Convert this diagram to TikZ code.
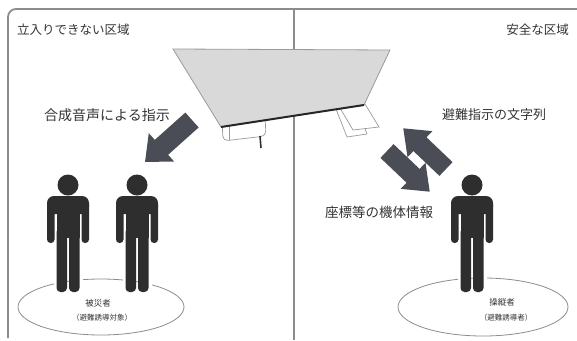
\documentclass[tikz,border=0pt]{standalone}
\usepackage{fontspec}
\setmainfont{Noto Sans CJK JP}
\definecolor{framegray}{HTML}{8C8C8C}
\definecolor{panelgray}{HTML}{D9D9D9}
\definecolor{edgegray}{HTML}{9A9A9A}
\definecolor{arrowgray}{HTML}{4A4D55}
\definecolor{figdark}{HTML}{2E2E2E}
\definecolor{txt}{HTML}{333333}
\tikzset{
  framestyle/.style={draw=framegray, line width=1.8pt},
  lbl/.style={text=txt, inner sep=0pt},
  bigarrow/.style={fill=arrowgray},
  devicepart/.style={draw=edgegray, fill=white, line width=0.7pt},
  zone/.style={draw=framegray, line width=0.8pt},
  person/.pic={
    % white halo so the person stands in front of the ground ellipse
    \begin{scope}[draw=white, line width=6pt]
      \draw (0,185) circle (10.5);
      \draw[rounded corners=7] (-21,196) rectangle (21,214);
      \draw (-21,200) rectangle (21,243);
      \draw (-11.5,196) rectangle (11.5,292);
    \end{scope}
    \begin{scope}[fill=figdark]
      \fill (0,185) circle (10.5);
      \fill[rounded corners=7] (-21,196) rectangle (21,214);
      \fill[rounded corners=3.5] (-21,202) rectangle (-13.5,243);
      \fill[rounded corners=3.5] (13.5,202) rectangle (21,243);
      \fill (-11.5,198) rectangle (11.5,238);
      \fill[rounded corners=4] (-11.5,228) rectangle (-1,292);
      \fill[rounded corners=4] (1,228) rectangle (11.5,292);
    \end{scope}
  }
}
\begin{document}
\begin{tikzpicture}[x=1pt, y=-1pt]
\useasboundingbox (0,0) rectangle (577,340);

% outer frame and divider between the two zones
\draw[framestyle, rounded corners=8pt] (577,9) -- (8,9) -- (8,338);
\draw[framestyle] (294,9) -- (294,340);

% zone titles
\node[lbl, anchor=west, font=\fontsize{12.5}{14}\selectfont] (zoneL) at (17,30) {立入りできない区域};
\node[lbl, anchor=east, font=\fontsize{12.5}{14}\selectfont] (zoneR) at (569,30) {安全な区域};

% devices hanging below the drone
\draw[devicepart, rounded corners=5] (222,120) -- (265,116) -- (266,136) -- (223,141) -- cycle;
\draw[edgegray, line width=0.7pt] (229,126) -- (229,140);
\draw[figdark, line width=1.6pt] (260,136) -- (261,148);
\draw[devicepart] (336,109) -- (347,137) -- (367,134) -- (357,107) -- cycle;
\draw[devicepart] (340,108) -- (353,130) -- (379,127) -- (365,104) -- cycle;

% drone body
\draw[fill=panelgray, draw=edgegray, line width=0.8pt] (173,49) -- (390,50) -- (364,105) -- (221,127) -- cycle;
\draw[line width=2pt, draw=black!85] (221,127) -- (364,105);

% message labels
\node[lbl, font=\fontsize{14}{16}\selectfont] (voice) at (107,115) {合成音声による指示};
\node[lbl, font=\fontsize{13}{15}\selectfont] (textmsg) at (494,115) {避難指示の文字列};
\node[lbl, font=\fontsize{13.5}{15}\selectfont] (info) at (379,212) {座標等の機体情報};

% block arrows
\fill[bigarrow, shift={(192,120)}, rotate=221.8] (0,-10) -- (41,-10) -- (41,-19) -- (63,0) -- (41,19) -- (41,10) -- (0,10) -- cycle;
\fill[bigarrow, shift={(446,169)}, rotate=136.4] (0,-9.5) -- (36,-9.5) -- (36,-18) -- (59,0) -- (36,18) -- (36,9.5) -- (0,9.5) -- cycle;
\fill[bigarrow, shift={(387,151)}, rotate=-43.6] (0,-9.5) -- (36,-9.5) -- (36,-18) -- (59,0) -- (36,18) -- (36,9.5) -- (0,9.5) -- cycle;

% ground ellipses
\draw[zone] (101,307) ellipse (83 and 28);
\draw[zone] (483,307) ellipse (85 and 29);

% people
\pic at (68,0) {person};
\pic at (137,0) {person};
\pic at (472,0) {person};

% group labels
\node[lbl, font=\fontsize{8.5}{10}\selectfont] (victims) at (98,303) {被災者};
\node[lbl, font=\fontsize{7.5}{9}\selectfont] (victimsnote) at (102,318) {（避難誘導対象）};
\node[lbl, font=\fontsize{8.5}{10}\selectfont] (operator) at (502,302) {操縦者};
\node[lbl, font=\fontsize{7.5}{9}\selectfont] (operatornote) at (506,318) {（避難誘導者）};
\end{tikzpicture}
\end{document}
